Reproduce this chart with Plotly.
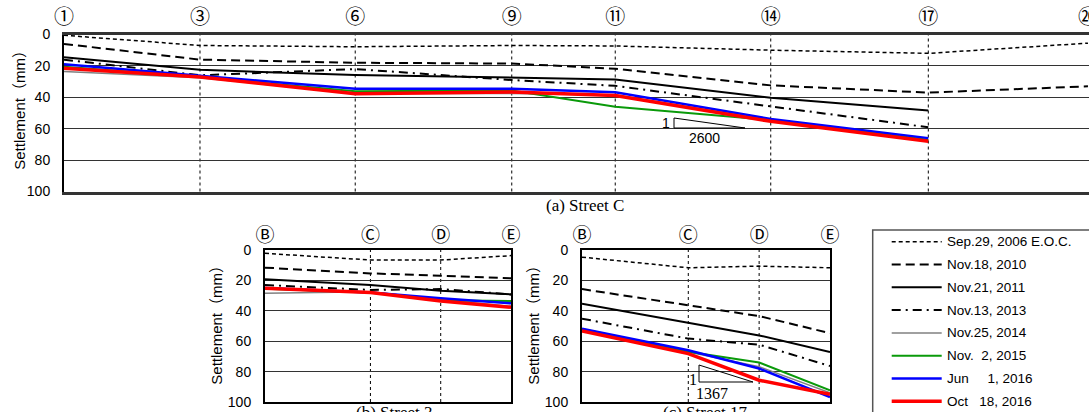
import plotly.graph_objects as go

W, H = 1089, 412

# ---------------- data ----------------
series_names = ["Sep.29, 2006 E.O.C.", "Nov.18, 2010", "Nov.21, 2011", "Nov.13, 2013",
                "Nov.25, 2014", "Nov.\u00a0\u00a02, 2015", "Jun\u00a0\u00a0\u00a0\u00a0\u00a01, 2016",
                "Oct\u00a0\u00a0\u00a018, 2016"]

# (a) Street C
c_labels = ["①", "③", "⑥", "⑨", "⑪", "⑭", "⑰", "⑳"]
c_pos = [0, 2.615, 5.6, 8.61, 10.6, 13.59, 16.62, 19.69]
c_sep2006 = [0.5, 7.0, 7.8, 7.0, 7.3, 10.0, 12.0, 5.5]
c_nov2010 = [6.0, 16.0, 18.0, 18.5, 21.8, 32.4, 37.0, 33.0]
c_nov2011 = [14.5, 22.5, 25.8, 27.3, 28.6, 40.3, 48.4, None]
c_nov2013 = [16.0, 26.0, 22.0, 29.0, 32.7, 45.8, 59.1, None]
c_nov2014 = [23.6, 27.5, 37.5, 37.5, 38.5, 54.5, 67.5, None]
c_nov2015 = [20.5, 27.0, 36.2, 35.6, 46.0, 54.5, 67.0, None]
c_jun2016 = [19.0, 26.5, 34.6, 34.6, 36.8, 53.8, 66.0, None]
c_oct2016 = [21.5, 27.0, 37.8, 36.6, 38.9, 55.3, 68.0, None]

# (b) Street 3 and (c) Street 17
bc_labels = ["Ⓑ", "Ⓒ", "Ⓓ", "Ⓔ"]
bc_pos = [0, 1.5, 2.5, 3.5]
s3_sep2006 = [2.2, 6.6, 6.6, 3.7]
s3_nov2010 = [11.6, 15.4, 16.9, 18.6]
s3_nov2011 = [19.3, 23.0, 26.8, 29.2]
s3_nov2013 = [23.0, 26.3, 25.7, 29.2]
s3_nov2014 = [28.5, 27.5, 32.5, 37.0]
s3_nov2015 = [25.5, 28.0, 33.0, 33.6]
s3_jun2016 = [25.0, 28.0, 31.8, 35.1]
s3_oct2016 = [25.2, 27.9, 33.6, 37.7]

s17_sep2006 = [4.7, 11.7, 10.6, 11.7]
s17_nov2010 = [25.7, 36.5, 43.5, 54.7]
s17_nov2011 = [35.4, 47.8, 56.2, 67.1]
s17_nov2013 = [45.2, 58.3, 62.3, 76.3]
s17_nov2014 = [52.5, 67.0, 76.8, 94.0]
s17_nov2015 = [52.0, 67.0, 74.0, 92.3]
s17_jun2016 = [51.8, 66.0, 78.0, 96.7]
s17_oct2016 = [53.3, 68.2, 85.7, 94.9]

y_ticks = [0, 20, 40, 60, 80, 100]

# ---------------- styles ----------------
styles = [
    dict(color="black", width=1.5, dash="4px,3px"),
    dict(color="black", width=2, dash="9px,5px"),
    dict(color="black", width=2, dash="solid"),
    dict(color="black", width=2, dash="9px,5px,2px,5px"),
    dict(color="#808080", width=1.5, dash="solid"),
    dict(color="#0a9a0a", width=2, dash="solid"),
    dict(color="#0000ff", width=2.5, dash="solid"),
    dict(color="#ff0000", width=3.5, dash="solid"),
]

streetC = [c_sep2006, c_nov2010, c_nov2011, c_nov2013, c_nov2014, c_nov2015, c_jun2016, c_oct2016]
street3 = [s3_sep2006, s3_nov2010, s3_nov2011, s3_nov2013, s3_nov2014, s3_nov2015, s3_jun2016, s3_oct2016]
street17 = [s17_sep2006, s17_nov2010, s17_nov2011, s17_nov2013, s17_nov2014, s17_nov2015, s17_jun2016, s17_oct2016]


def px(x):
    return x / W


def py(y):
    return 1 - y / H


fig = go.Figure()
for (xs, data, xa, ya) in [(c_pos, streetC, "x", "y"), (bc_pos, street3, "x2", "y2"),
                           (bc_pos, street17, "x3", "y3")]:
    for name, vals, st in zip(series_names, data, styles):
        fig.add_trace(go.Scatter(x=xs, y=vals, mode="lines", name=name, line=st,
                                 xaxis=xa, yaxis=ya, showlegend=False, hoverinfo="skip"))

SANS = "Arial, Liberation Sans, sans-serif"
SERIF = "Times New Roman, Liberation Serif, serif"
CJK = "Noto Sans CJK JP"

yax_common = dict(range=[100, 0], tickvals=y_ticks, showgrid=True, gridcolor="#333",
                  gridwidth=1.2, zeroline=False, tickfont=dict(family=SANS, size=14, color="black"),
                  ticks="", ticklabelstandoff=9, fixedrange=True, automargin=False)

xax_common = dict(side="top", ticks="", showgrid=False, zeroline=False, showline=True, mirror=True,
                  automargin=False, fixedrange=True, ticklabeloverflow="allow")

fig.update_layout(
    width=W, height=H, margin=dict(l=0, r=0, t=0, b=0, autoexpand=False),
    paper_bgcolor="white", plot_bgcolor="white",
    font=dict(family=SANS, size=14, color="black"),
    xaxis=dict(domain=[px(64), 1], range=[0, 19.71], tickvals=c_pos, ticktext=c_labels,
               tickfont=dict(family=CJK, size=20, color="black"), ticklabelstandoff=0,
               linewidth=2.5, linecolor="#333", anchor="y", **xax_common),
    yaxis=dict(domain=[py(191.5), py(34.5)], anchor="x", showline=True, mirror=False,
               linewidth=2, linecolor="black", **yax_common),
    xaxis2=dict(domain=[px(265), px(511)], range=[0, 3.5], tickvals=bc_pos, ticktext=bc_labels,
                tickfont=dict(family=CJK, size=19, color="black"), ticklabelstandoff=-2,
                linewidth=2, linecolor="black", anchor="y2", **xax_common),
    yaxis2=dict(domain=[py(402), py(250)], anchor="x2", showline=True, mirror=True,
                linewidth=2, linecolor="black", **yax_common),
    xaxis3=dict(domain=[px(582), px(830)], range=[0, 3.5], tickvals=bc_pos, ticktext=bc_labels,
                tickfont=dict(family=CJK, size=19, color="black"), ticklabelstandoff=-2,
                linewidth=2, linecolor="black", anchor="y3", **xax_common),
    yaxis3=dict(domain=[py(402), py(250)], anchor="x3", showline=True, mirror=True,
                linewidth=2, linecolor="black", **yax_common),
    showlegend=False,
)

shapes = []
# vertical dashed station lines
for xv in c_pos[1:-1]:
    shapes.append(dict(type="line", xref="x", yref="y domain", x0=xv, x1=xv, y0=0, y1=1,
                       line=dict(color="black", width=1, dash="3px,3px"), layer="below"))
for xa in ["x2", "x3"]:
    for xv in bc_pos[1:-1]:
        shapes.append(dict(type="line", xref=xa, yref=xa.replace("x", "y") + " domain", x0=xv, x1=xv,
                           y0=0, y1=1, line=dict(color="black", width=1, dash="3px,3px"), layer="below"))

# slope triangles
for (xl, yt, xr, yb) in [(674, 118, 745, 128), (699, 365, 753, 382)]:
    shapes.append(dict(type="path", xref="paper", yref="paper",
                       path=f"M {px(xl)},{py(yt)} L {px(xl)},{py(yb)} L {px(xr)},{py(yb)} Z",
                       line=dict(color="black", width=1)))

# legend box
shapes.append(dict(type="rect", xref="paper", yref="paper", x0=px(872.7), x1=px(1100),
                   y0=py(440), y1=py(230), line=dict(color="#555", width=1.5), fillcolor="white",
                   layer="below"))

annotations = []
leg_y0, leg_dy = 241.7, 22.8
for i, (name, st) in enumerate(zip(series_names, styles)):
    yy = leg_y0 + i * leg_dy
    shapes.append(dict(type="line", xref="paper", yref="paper", x0=px(891.7), x1=px(941.7),
                       y0=py(yy), y1=py(yy), line=st))
    annotations.append(dict(xref="paper", yref="paper", x=px(945), y=py(yy), text=name,
                            xanchor="left", yanchor="middle", showarrow=False,
                            font=dict(family=SANS, size=13.5, color="black")))

# captions
for (txt, cx, cy) in [("(a) Street C", 585, 205), ("(b) Street 3", 394, 412), ("(c) Street 17", 705, 412)]:
    annotations.append(dict(xref="paper", yref="paper", x=px(cx), y=py(cy), text=txt, showarrow=False,
                            xanchor="center", yanchor="middle",
                            font=dict(family=SERIF, size=17, color="black")))

# y-axis titles
for (cx, cy) in [(18.8, 106), (217, 321.7), (534, 321.7)]:
    annotations.append(dict(xref="paper", yref="paper", x=px(cx), y=py(cy), text="Settlement（mm）",
                            textangle=-90, showarrow=False, xanchor="center", yanchor="middle",
                            font=dict(family=SANS + ", " + CJK, size=15, color="black")))

# slope labels
for (txt, cx, cy, fam, fs) in [("1", 666, 123, SANS, 14), ("2600", 704, 138.3, SANS, 14),
                               ("1", 692.7, 379, SERIF, 16), ("1367", 711.7, 393, SERIF, 16)]:
    annotations.append(dict(xref="paper", yref="paper", x=px(cx), y=py(cy), text=txt, showarrow=False,
                            xanchor="center", yanchor="middle", font=dict(family=fam, size=fs, color="black")))

fig.update_layout(shapes=shapes, annotations=annotations)
fig.write_html("out.html", config={"displayModeBar": False, "responsive": False})
